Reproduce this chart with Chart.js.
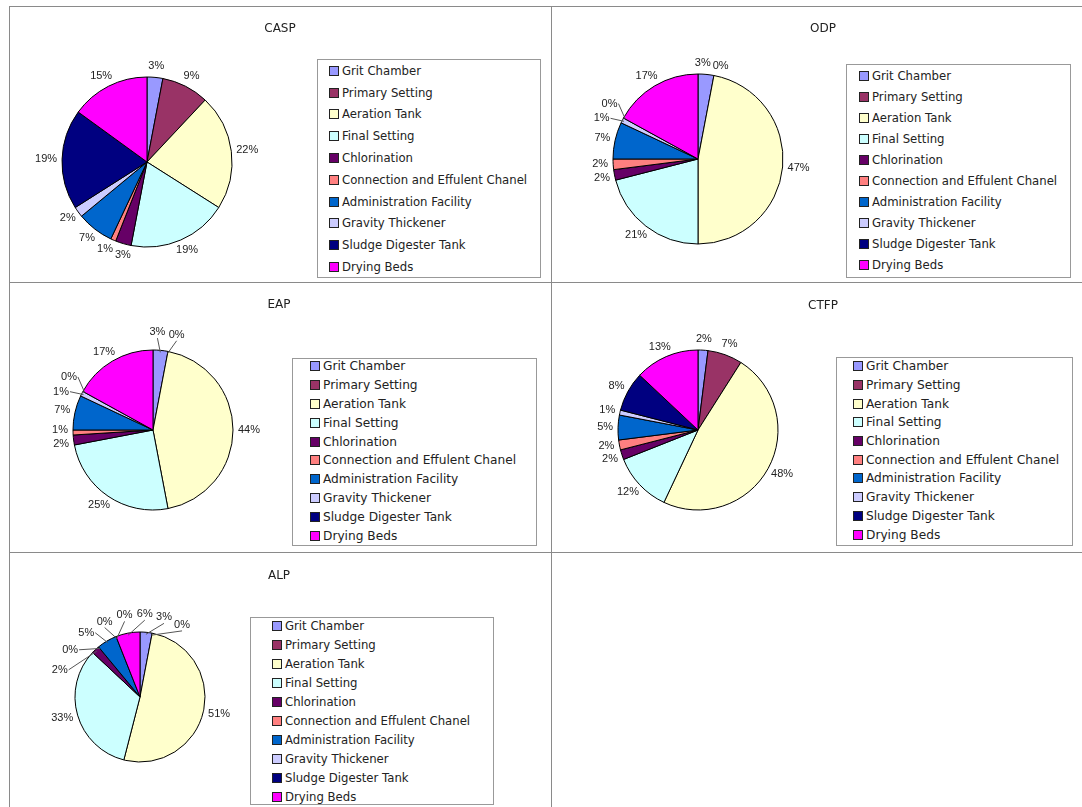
<!DOCTYPE html>
<html>
<head>
<meta charset="utf-8">
<script src="https://cdn.jsdelivr.net/npm/chart.js@4.4.1/dist/chart.umd.min.js"></script>
<style>
  html, body { margin: 0; padding: 0; background: #fff; overflow: hidden; }
  body { width: 1082px; height: 807px; position: relative; color: #222; }
  .panel { position: absolute; border: 1px solid #8a8a8a; box-sizing: border-box; }
  canvas { position: absolute; }
  .title { position: absolute; width: 120px; margin-left: -60px; margin-top: -8px; text-align: center;
           font: 12px "DejaVu Sans", sans-serif; line-height: 16px; color: #222; }
  .legend { position: absolute; border: 1px solid #999; box-sizing: border-box; background: #fff; }
  .legend .row { display: flex; align-items: center; white-space: nowrap; font-family: "DejaVu Sans", sans-serif; color: #222; }
  .legend .sw { width: 8px; height: 8px; border: 1px solid #222; margin-right: 3px; flex: none; }
</style>
</head>
<body>
<script>
const categories = [
  'Grit Chamber', 'Primary Setting', 'Aeration Tank', 'Final Setting', 'Chlorination',
  'Connection and Effulent Chanel', 'Administration Facility', 'Gravity Thickener',
  'Sludge Digester Tank', 'Drying Beds'
];
// percentages
const caspValues = [3, 9, 22, 19, 3, 1, 7, 2, 19, 15];
const odpValues  = [3, 0, 47, 21, 2, 2, 7, 1, 0, 17];
const eapValues  = [3, 0, 44, 25, 2, 1, 7, 1, 0, 17];
const ctfpValues = [2, 7, 48, 12, 2, 2, 5, 1, 8, 13];
const alpValues  = [3, 0, 51, 33, 2, 0, 5, 0, 0, 6];

const sliceColors = ['#9999FF', '#993366', '#FFFFCC', '#CCFFFF', '#660066',
                     '#FF8080', '#0066CC', '#CCCCFF', '#000080', '#FF00FF'];

// page layout of each panel (box = panel frame, pie = centre x/y + radius, legend = frame)
const panels = [
  { title: 'CASP', values: caspValues, box: [9, 6, 543, 277], titleAt: [280, 28], pie: [147, 162, 85],
    legend: [317, 59, 224, 219], rowH: 21.8, padL: 11, padT: 0, font: 11.7 },
  { title: 'ODP', values: odpValues, box: [551, 6, 600, 277], titleAt: [823, 28], pie: [698, 159, 85],
    legend: [846, 64, 225, 214], rowH: 21.1, padL: 12, padT: 0, font: 11.7 },
  { title: 'EAP', values: eapValues, box: [9, 282, 543, 271], titleAt: [279, 304], pie: [153, 430, 80],
    legend: [292, 358, 245, 188], rowH: 18.8, padL: 17, padT: -2, font: 12.2 },
  { title: 'CTFP', values: ctfpValues, box: [551, 282, 600, 271], titleAt: [823, 305], pie: [698, 430, 80],
    legend: [836, 357, 237, 189], rowH: 18.7, padL: 16, padT: -1, font: 12.2 },
  { title: 'ALP', values: alpValues, box: [9, 552, 543, 300], titleAt: [279, 575], pie: [140, 697, 65],
    legend: [250, 617, 244, 188], rowH: 19, padL: 21, padT: -2, font: 11.7 }
];

const TWO_PI = Math.PI * 2;

// percentage labels outside the pie; crowded ones are slid round the rim and get a leader line
const pctLabels = {
  id: 'pctLabels',
  afterDatasetsDraw(chart) {
    const ctx = chart.ctx;
    const meta = chart.getDatasetMeta(0);
    const values = chart.data.datasets[0].data;
    const total = values.reduce((a, b) => a + b, 0);
    const gap = 5, h = 12;
    ctx.save();
    ctx.font = '11px "Liberation Sans", Arial, sans-serif';

    const items = meta.data.map((arc, i) => {
      const p = arc.getProps(['x', 'y', 'startAngle', 'endAngle', 'outerRadius'], true);
      // angle measured clockwise from 12 o'clock
      const t0 = (((p.startAngle + p.endAngle) / 2 + Math.PI / 2) % TWO_PI + TWO_PI) % TWO_PI;
      const text = Math.round(values[i] / total * 100) + '%';
      return { text, w: ctx.measureText(text).width, cx: p.x, cy: p.y, r: p.outerRadius, t0 };
    });

    // walk round the circle starting after the widest empty stretch
    const sorted = items.slice().sort((a, b) => a.t0 - b.t0);
    let start = 0, widest = -1;
    sorted.forEach((it, k) => {
      const nxt = sorted[(k + 1) % sorted.length];
      const g = ((nxt.t0 - it.t0) % TWO_PI + TWO_PI) % TWO_PI || (sorted.length === 1 ? TWO_PI : 0);
      if (g > widest) { widest = g; start = (k + 1) % sorted.length; }
    });
    const order = sorted.slice(start).concat(sorted.slice(0, start));
    const base = order[0].t0;
    order.forEach(it => { it.u = it.t0 < base ? it.t0 + TWO_PI : it.t0; });

    const sep = (a, b) => {
      const t = (a.u + b.u) / 2;
      const rp = a.r + gap + 8;
      const sx = ((a.w + b.w) / 2 + 2) / (rp * Math.max(Math.abs(Math.cos(t)), 1e-3));
      const sy = 14 / (rp * Math.max(Math.abs(Math.sin(t)), 1e-3));
      return Math.min(sx, sy, 0.8);
    };
    const layoutGroup = g => {
      const offs = [0];
      for (let k = 1; k < g.items.length; k++) offs.push(offs[k - 1] + sep(g.items[k - 1], g.items[k]));
      const meanNat = g.items.reduce((s, it) => s + it.u, 0) / g.items.length;
      const meanOff = offs.reduce((s, o) => s + o, 0) / offs.length;
      g.items.forEach((it, k) => { it.t = meanNat - meanOff + offs[k]; });
    };
    const groups = order.map(it => ({ items: [it] }));
    groups.forEach(layoutGroup);
    let changed = true;
    while (changed) {
      changed = false;
      for (let k = 0; k < groups.length - 1; k++) {
        const a = groups[k], b = groups[k + 1];
        const la = a.items[a.items.length - 1], fb = b.items[0];
        if (la.t + sep(la, fb) > fb.t + 1e-6) {
          a.items = a.items.concat(b.items);
          layoutGroup(a);
          groups.splice(k + 1, 1);
          changed = true;
          break;
        }
      }
    }

    ctx.fillStyle = '#222';
    ctx.strokeStyle = '#555';
    ctx.lineWidth = 1;
    ctx.textAlign = 'center';
    ctx.textBaseline = 'middle';
    items.forEach(it => {
      const moved = Math.abs(it.t - it.u) > 0.05;
      const R = it.r + gap + (moved ? 7 : 0);
      const sin = Math.sin(it.t), cos = Math.cos(it.t);
      const x = it.cx + (R + it.w / 2) * sin;
      const y = it.cy - (R + h / 2) * cos;
      if (moved) {
        let ex, ey;
        if (Math.abs(sin) > 0.5) { ex = x - Math.sign(sin) * (it.w / 2 + 1); ey = y; }
        else { ex = x; ey = y + Math.sign(cos) * (h / 2); }
        ctx.beginPath();
        ctx.moveTo(it.cx + (it.r - 2) * Math.sin(it.u), it.cy - (it.r - 2) * Math.cos(it.u));
        ctx.lineTo(ex, ey);
        ctx.stroke();
      }
      ctx.fillText(it.text, x, y);
    });
    ctx.restore();
  }
};

panels.forEach(p => {
  const [bx, by, bw, bh] = p.box;
  const frame = document.createElement('div');
  frame.className = 'panel';
  Object.assign(frame.style, { left: bx + 'px', top: by + 'px', width: bw + 'px', height: bh + 'px' });
  document.body.appendChild(frame);

  const canvas = document.createElement('canvas');
  canvas.width = bw;
  canvas.height = bh;
  Object.assign(canvas.style, { left: bx + 'px', top: by + 'px', width: bw + 'px', height: bh + 'px' });
  document.body.appendChild(canvas);

  const title = document.createElement('div');
  title.className = 'title';
  title.textContent = p.title;
  Object.assign(title.style, { left: p.titleAt[0] + 'px', top: p.titleAt[1] + 'px' });
  document.body.appendChild(title);

  const [pcx, pcy, r] = [p.pie[0] - bx, p.pie[1] - by, p.pie[2]];
  const half = r + 2;

  new Chart(canvas, {
    type: 'pie',
    data: {
      labels: categories,
      datasets: [{
        data: p.values,
        backgroundColor: sliceColors,
        borderColor: '#000',
        borderWidth: 1
      }]
    },
    options: {
      responsive: false,
      animation: false,
      radius: r,
      layout: {
        padding: { left: pcx - half, top: pcy - half, right: bw - pcx - half, bottom: bh - pcy - half }
      },
      plugins: {
        legend: { display: false },
        title: { display: false },
        tooltip: { enabled: false }
      }
    },
    plugins: [pctLabels]
  });

  // legend frame built from the same categories / colours
  const [lx, ly, lw, lh] = p.legend;
  const legend = document.createElement('div');
  legend.className = 'legend';
  Object.assign(legend.style, { left: lx + 'px', top: ly + 'px', width: lw + 'px', height: lh + 'px',
    paddingLeft: p.padL + 'px' });
  categories.forEach((cat, i) => {
    const row = document.createElement('div');
    row.className = 'row';
    row.style.height = p.rowH + 'px';
    row.style.fontSize = p.font + 'px';
    if (i === 0) row.style.marginTop = p.padT + 'px';
    const sw = document.createElement('span');
    sw.className = 'sw';
    sw.style.background = sliceColors[i];
    const tx = document.createElement('span');
    tx.textContent = cat;
    row.appendChild(sw);
    row.appendChild(tx);
    legend.appendChild(row);
  });
  document.body.appendChild(legend);
});

// empty lower-right cell of the grid
const blank = document.createElement('div');
blank.className = 'panel';
Object.assign(blank.style, { left: '551px', top: '552px', width: '600px', height: '300px' });
document.body.appendChild(blank);
</script>
</body>
</html>
